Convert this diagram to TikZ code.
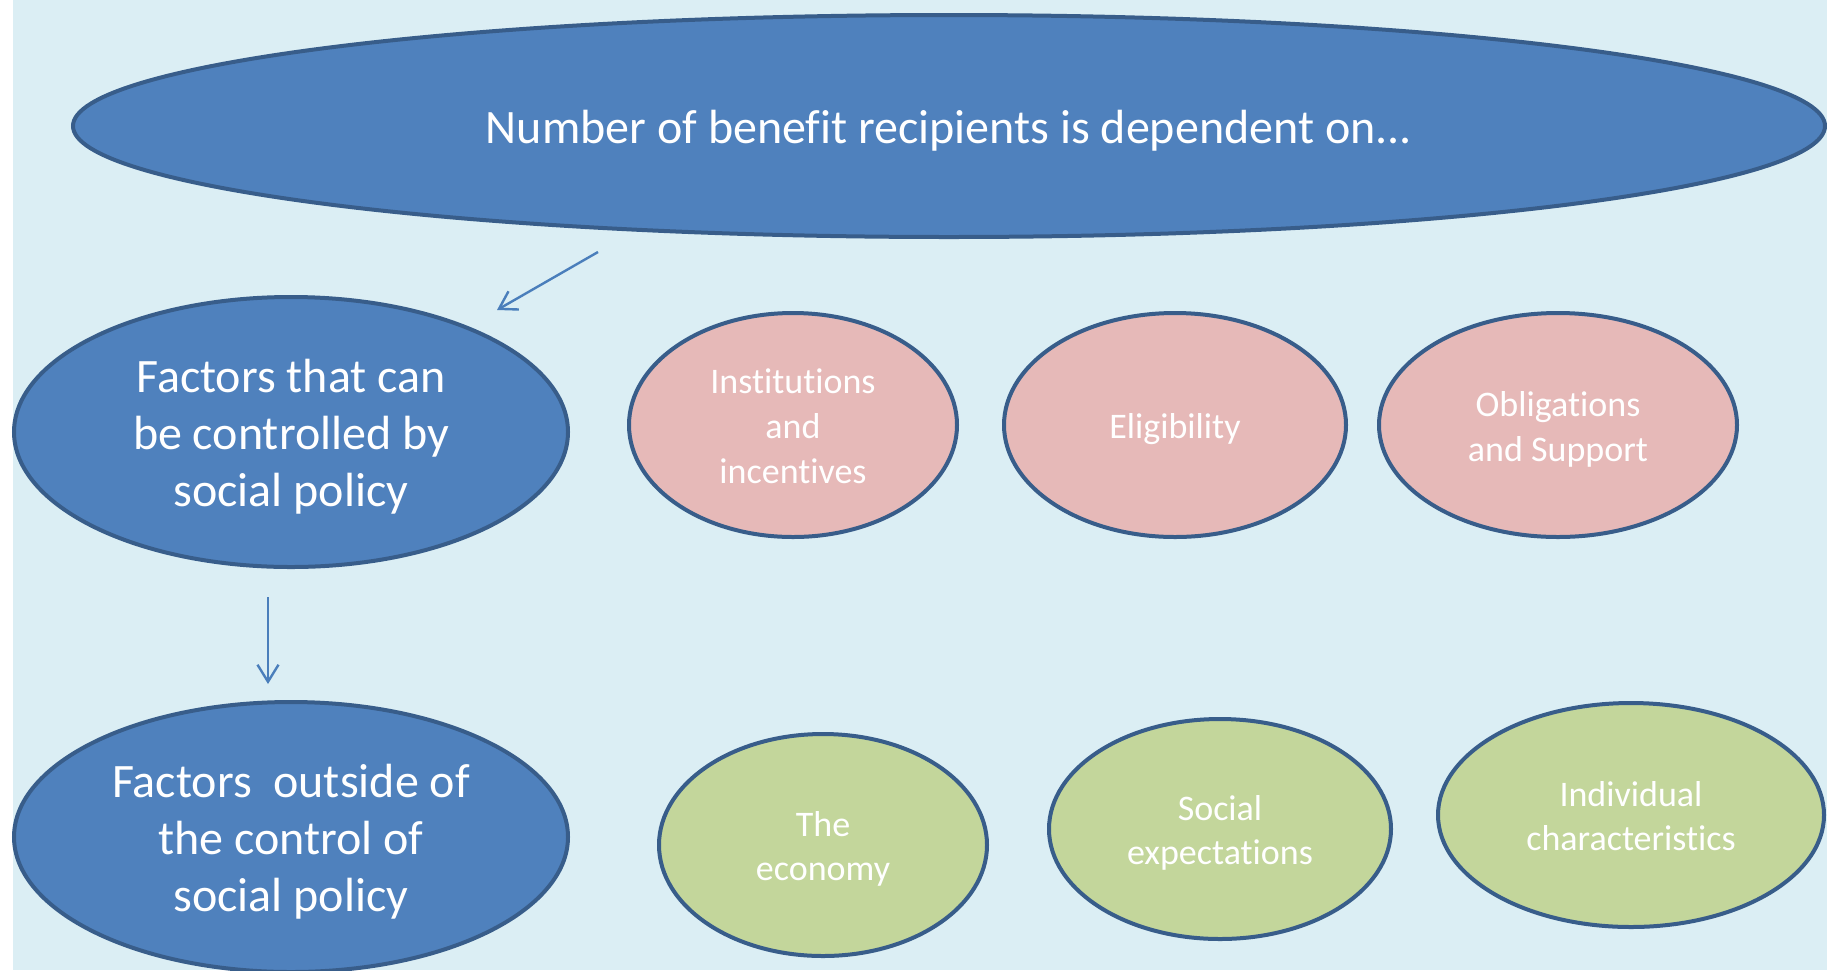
\documentclass[tikz,border=0pt]{standalone}
\usepackage{fontspec}
\setmainfont[Ligatures=NoCommon]{Carlito}
\usetikzlibrary{shapes.geometric,arrows.meta}
\definecolor{bgaqua}{HTML}{DBEEF4}
\definecolor{mainblue}{HTML}{4F81BD}
\definecolor{edgeblue}{HTML}{385D8A}
\definecolor{arrowblue}{HTML}{4A7EBB}
\definecolor{rosefill}{HTML}{E6B9B8}
\definecolor{olivefill}{HTML}{C3D69B}
% centred lines of text on a strut grid, set a little below the middle
\newcommand{\ovaltext}[1]{\raisebox{-0.13em}[\height][\depth]{\begin{tabular}{@{}c@{}}#1\end{tabular}}}
\tikzset{
  oval/.style={ellipse, draw=edgeblue, line width=4pt, inner sep=0pt,
    text=white},
  bigoval/.style={oval, fill=mainblue, font=\fontsize{48}{57}\selectfont},
  rosebubble/.style={oval, fill=rosefill, font=\fontsize{36}{45}\selectfont},
  olivebubble/.style={oval, fill=olivefill, font=\fontsize{36}{44}\selectfont},
  linkarrow/.style={draw=arrowblue, line width=2.4pt,
    -{Straight Barb[length=17pt,width=21pt]}},
}
\begin{document}
\begin{tikzpicture}[x=1pt,y=-1pt]
  \useasboundingbox (0,0) rectangle (1827,970);
  \fill[white] (0,0) rectangle (1827,970);
  \fill[bgaqua] (13,0) rectangle (1827,970);
  \begin{scope}
    \clip (0,0) rectangle (1827,970);
    % headline
    \node[bigoval, minimum width=1752pt, minimum height=222pt]
      (top) at (949,126) {\ovaltext{Number of benefit recipients is dependent on...}};
    % the two groups of factors
    \node[bigoval, minimum width=554pt, minimum height=270pt]
      (ctrl) at (291,432) {\ovaltext{Factors that can\\be controlled by\\social policy}};
    \node[bigoval, minimum width=554pt, minimum height=270pt]
      (outside) at (291,837) {\ovaltext{Factors\ \ outside of\\the control of\\social policy}};
    % factors within reach of policy
    \node[rosebubble, minimum width=328pt, minimum height=224pt]
      (inst) at (793,425) {\ovaltext{Institutions\\and\\incentives}};
    \node[rosebubble, minimum width=342pt, minimum height=224pt]
      (elig) at (1175,425) {\ovaltext{Eligibility}};
    \node[rosebubble, minimum width=358pt, minimum height=224pt]
      (oblig) at (1558,425) {\ovaltext{Obligations\\and Support}};
    % factors beyond reach of policy
    \node[olivebubble, minimum width=328pt, minimum height=222pt]
      (econ) at (823,845) {\ovaltext{The\\economy}};
    \node[olivebubble, minimum width=342pt, minimum height=220pt]
      (social) at (1220,829) {\ovaltext{Social\\expectations}};
    \node[olivebubble, minimum width=386pt, minimum height=224pt]
      (indiv) at (1631,815) {\ovaltext{Individual\\characteristics}};
  \end{scope}
  % connectors
  \coordinate (aOneStart) at (598,252);
  \coordinate (aOneEnd) at (497,310);
  \coordinate (aTwoStart) at (268,597);
  \coordinate (aTwoEnd) at (268,684);
  \draw[linkarrow] (aOneStart) -- (aOneEnd);
  \draw[linkarrow] (aTwoStart) -- (aTwoEnd);
\end{tikzpicture}
\end{document}
